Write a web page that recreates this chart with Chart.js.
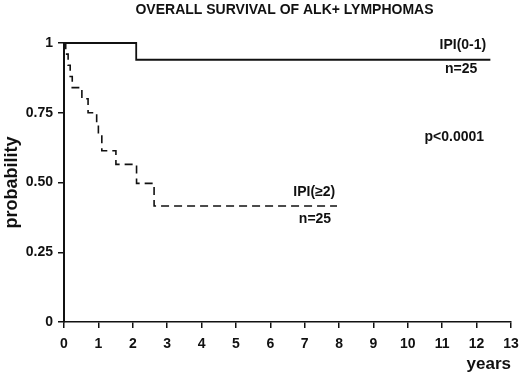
<!DOCTYPE html>
<html>
<head>
<meta charset="utf-8">
<script src="https://cdn.jsdelivr.net/npm/chart.js@4/dist/chart.umd.min.js"></script>
<style>
  html, body { margin: 0; padding: 0; background: #ffffff; }
  #wrap { width: 520px; height: 376px; position: relative; }
</style>
</head>
<body>
<div id="wrap"><canvas id="c" width="520" height="376"></canvas></div>
<script>
// Kaplan-Meier estimates (time in years, survival probability)
const ipiLowTimes  = [0, 2.1, 12.4];
const ipiLowSurv   = [1, 0.94, 0.94];
const ipiHighTimes = [0, 0.05, 0.12, 0.18, 0.24, 0.52, 0.70, 0.95, 1.00, 1.10, 1.51, 2.11, 2.62, 7.94];
const ipiHighSurv  = [1, 0.96, 0.92, 0.88, 0.84, 0.80, 0.75, 0.71, 0.67, 0.614, 0.565, 0.497, 0.416, 0.416];
const xTicks = [0,1,2,3,4,5,6,7,8,9,10,11,12,13];
const yTicks = [0, 0.25, 0.5, 0.75, 1];
const yTickLabels = ['0', '0.25', '0.50', '0.75', '1'];

const titleText = 'OVERALL SURVIVAL OF ALK+ LYMPHOMAS';
const annotationTexts = ['IPI(0-1)', 'n=25', 'p<0.0001', 'IPI(\u22652)', 'n=25'];
const annotationX     = [11.6, 11.55, 11.35, 7.28, 7.3];
const annotationY     = [0.993, 0.907, 0.663, 0.466, 0.369];

const FONT = "'Liberation Sans', Arial, Helvetica, sans-serif";

const toPoints = (xs, ys) => xs.map((x, i) => ({ x: x, y: ys[i] }));

const annotatePlugin = {
  id: 'annotate',
  afterDatasetsDraw(chart) {
    const ctx = chart.ctx;
    const xs = chart.scales.x, ys = chart.scales.y;
    const area = chart.chartArea;
    ctx.save();
    ctx.fillStyle = '#111';
    ctx.font = 'bold 14px ' + FONT;
    ctx.textAlign = 'center';
    ctx.textBaseline = 'middle';
    // chart title, centred over the plot area
    ctx.fillText(titleText, (area.left + area.right) / 2 - 3, 10);
    annotationTexts.forEach((t, i) => {
      ctx.fillText(t, xs.getPixelForValue(annotationX[i]), ys.getPixelForValue(annotationY[i]));
    });
    ctx.restore();
  }
};

new Chart(document.getElementById('c'), {
  type: 'line',
  data: {
    datasets: [
      {
        label: 'IPI(0-1)',
        data: toPoints(ipiLowTimes, ipiLowSurv),
        stepped: 'before',
        borderColor: '#111',
        borderWidth: 1.8,
        pointRadius: 0,
        fill: false,
        clip: 6
      },
      {
        label: 'IPI(>=2)',
        data: toPoints(ipiHighTimes, ipiHighSurv),
        stepped: 'before',
        borderColor: '#111',
        borderWidth: 1.6,
        borderDash: [8, 5],
        pointRadius: 0,
        fill: false,
        clip: 6
      }
    ]
  },
  options: {
    responsive: false,
    animation: false,
    devicePixelRatio: 1,
    layout: { padding: { left: 0, right: 9, top: 43, bottom: 0 } },
    plugins: {
      legend: { display: false },
      tooltip: { enabled: false },
      title: { display: false }
    },
    scales: {
      x: {
        type: 'linear',
        min: 0,
        max: 13,
        afterBuildTicks: (s) => { s.ticks = xTicks.map(v => ({ value: v })); },
        afterFit: (s) => { s.height = 54; s.paddingLeft = 0; s.paddingRight = 0; },
        border: { display: true, color: '#111', width: 1.6 },
        grid: { drawOnChartArea: false, drawTicks: true, tickLength: 6, color: '#111', lineWidth: 1.5 },
        ticks: {
          color: '#111',
          padding: 8,
          maxRotation: 0,
          autoSkip: false,
          font: { family: FONT, size: 14, weight: 'bold' }
        },
        title: {
          display: true,
          text: 'years',
          align: 'end',
          color: '#111',
          padding: { top: 0, bottom: 1 },
          font: { family: FONT, size: 17, weight: 'bold' }
        }
      },
      y: {
        type: 'linear',
        min: 0,
        max: 1,
        afterBuildTicks: (s) => { s.ticks = yTicks.map(v => ({ value: v })); },
        afterFit: (s) => { s.width = 64; s.paddingTop = 0; s.paddingBottom = 0; },
        border: { display: true, color: '#111', width: 2 },
        grid: { drawOnChartArea: false, drawTicks: true, tickLength: 6, color: '#111', lineWidth: 1.5 },
        ticks: {
          color: '#111',
          padding: 5,
          autoSkip: false,
          font: { family: FONT, size: 14, weight: 'bold' },
          callback: (v) => { const i = yTicks.indexOf(v); return i >= 0 ? yTickLabels[i] : ''; }
        },
        title: {
          display: true,
          text: 'probability',
          color: '#111',
          padding: { top: 1, bottom: 1 },
          font: { family: FONT, size: 18, weight: 'bold' }
        }
      }
    }
  },
  plugins: [annotatePlugin]
});
</script>
</body>
</html>
